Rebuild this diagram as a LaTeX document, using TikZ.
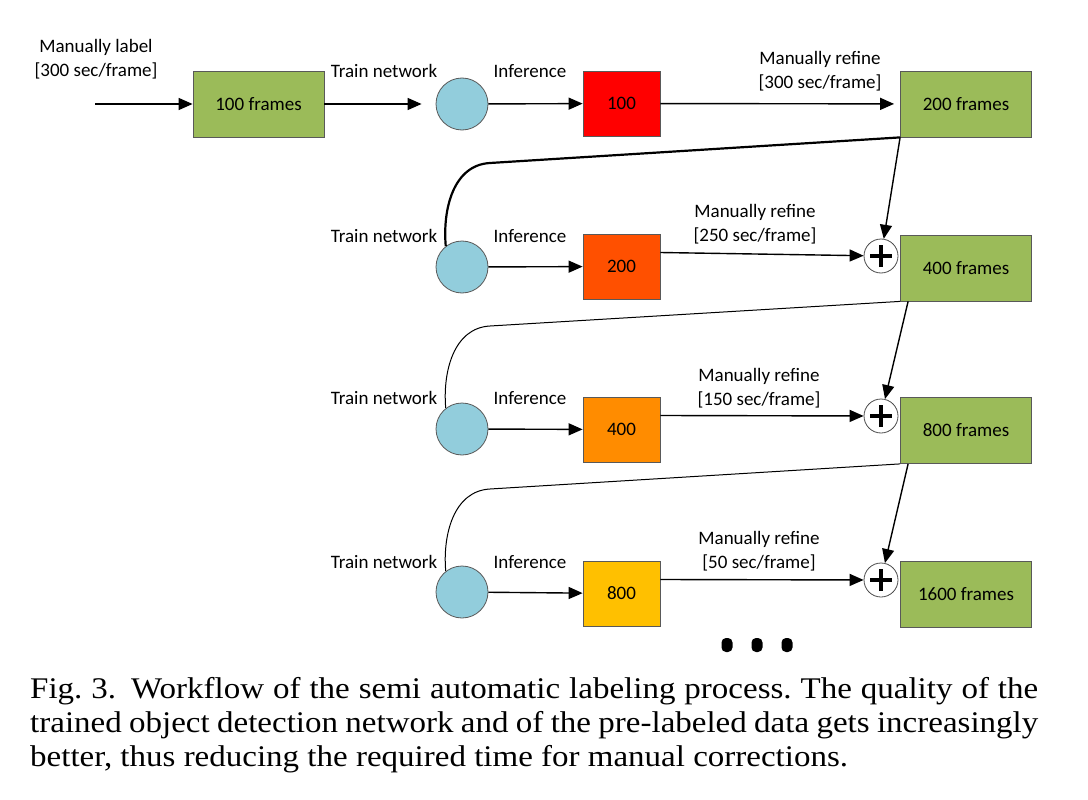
\documentclass[tikz,border=0pt]{standalone}
\usepackage{fontspec}
\setmainfont{Carlito}
\newfontfamily\capfont[FakeStretch=1.1]{Liberation Serif}
\usetikzlibrary{arrows.meta}

\definecolor{framegreen}{HTML}{9BBB59}
\definecolor{netblue}{HTML}{92CDDC}
\definecolor{infone}{HTML}{FF0000}
\definecolor{inftwo}{HTML}{FF5000}
\definecolor{infthree}{HTML}{FF8C00}
\definecolor{inffour}{HTML}{FFC000}

\tikzset{
  frames/.style={draw=black!65, fill=framegreen, line width=0.8pt, minimum width=131pt, minimum height=66pt, inner sep=0pt},
  prelabel/.style={draw=black!65, line width=0.8pt, minimum width=77pt, minimum height=65pt, inner sep=0pt},
  net/.style={circle, draw=black!65, fill=netblue, line width=0.8pt, minimum size=52pt, inner sep=0pt},
  merge/.style={circle, draw=black!70, fill=white, line width=0.8pt, minimum size=34pt, inner sep=0pt},
  plusmark/.style={line width=3.8pt},
  flow/.style={line width=1.4pt, -{Triangle[length=14pt,width=12pt]}},
  feedback/.style={line width=1pt},
  lbl/.style={align=center, inner sep=0pt},
  dot/.style={fill=black, rounded corners=4.5pt, minimum width=11pt, minimum height=14pt, inner sep=0pt},
}

\begin{document}
\begin{tikzpicture}[x=1pt, y=-1pt, font=\fontsize{19}{24}\selectfont]
    \useasboundingbox (0,0) rectangle (1088,800);

    % First round: manual labels
    \coordinate (start) at (95,104);
    \node[frames] (f100) at (258.5,104) {100 frames};
    \node[net] (net1) at (462,104) {};
    \node[prelabel, fill=infone] (pre100) at (621.5,103.5) {100};
    \node[frames] (f200) at (966,104) {200 frames};
    \draw[flow] (start) -- (f100);
    \draw[flow, shorten >=14pt] (f100) -- (net1);
    \draw[flow] (net1) -- (pre100);
    \draw[flow, shorten >=6pt] (pre100) -- (f200);
    \node[lbl] (label0) at (96,59) {Manually label\\{}[300 sec/frame]};
    \node[lbl] (train1) at (384,71) {Train network};
    \node[lbl] (inf1) at (530,71) {Inference};
    \node[lbl] (refine1) at (820,71) {Manually refine\\{}[300 sec/frame]};

    % Second round
    \node[net] (net2) at (462,267) {};
    \node[prelabel, fill=inftwo] (pre200) at (621.5,266.5) {200};
    \node[merge] (sum2) at (881,256) {};
    \draw[plusmark] ([xshift=-11pt]sum2.center) -- ([xshift=11pt]sum2.center)
                    ([yshift=-11pt]sum2.center) -- ([yshift=11pt]sum2.center);
    \node[frames] (f400) at (966,268) {400 frames};
    \coordinate (bend2) at (490,163);
    \draw[feedback, line width=2.2pt] (f200.south west) -- (bend2) to[out=183, in=95] (net2.128);
    \draw[flow] (net2) -- (pre200);
    \draw[flow] ([yshift=14pt]pre200.east) -- (sum2);
    \draw[flow] (f200.south west) -- (sum2);
    \node[lbl] (train2) at (384,236) {Train network};
    \node[lbl] (inf2) at (530,236) {Inference};
    \node[lbl] (refine2) at (755,224) {Manually refine\\{}[250 sec/frame]};

    % Third round
    \node[net] (net3) at (462,429) {};
    \node[prelabel, fill=infthree] (pre400) at (621.5,429.5) {400};
    \node[merge] (sum3) at (881,416) {};
    \draw[plusmark] ([xshift=-11pt]sum3.center) -- ([xshift=11pt]sum3.center)
                    ([yshift=-11pt]sum3.center) -- ([yshift=11pt]sum3.center);
    \node[frames] (f800) at (966,430.5) {800 frames};
    \coordinate (bend3) at (490,326);
    \draw[feedback] (f400.south west) -- (bend3) to[out=183, in=95] (net3.128);
    \draw[flow] (net3) -- (pre400);
    \draw[flow] ([yshift=14pt]pre400.east) -- (sum3);
    \draw[flow] ([xshift=8pt]f400.south west) -- (sum3);
    \node[lbl] (train3) at (384,398) {Train network};
    \node[lbl] (inf3) at (530,398) {Inference};
    \node[lbl] (refine3) at (759,388) {Manually refine\\{}[150 sec/frame]};

    % Fourth round
    \node[net] (net4) at (462,592) {};
    \node[prelabel, fill=inffour] (pre800) at (621.5,593.5) {800};
    \node[merge] (sum4) at (881,580) {};
    \draw[plusmark] ([xshift=-11pt]sum4.center) -- ([xshift=11pt]sum4.center)
                    ([yshift=-11pt]sum4.center) -- ([yshift=11pt]sum4.center);
    \node[frames] (f1600) at (966,594.5) {1600 frames};
    \coordinate (bend4) at (490,489);
    \draw[feedback] (f800.south west) -- (bend4) to[out=183, in=95] (net4.128);
    \draw[flow] (net4) -- (pre800);
    \draw[flow] ([yshift=14pt]pre800.east) -- (sum4);
    \draw[flow] ([xshift=8pt]f800.south west) -- (sum4);
    \node[lbl] (train4) at (384,562) {Train network};
    \node[lbl] (inf4) at (530,562) {Inference};
    \node[lbl] (refine4) at (759,551) {Manually refine\\{}[50 sec/frame]};

    % and so on
    \node[dot] (dot1) at (727,645) {};
    \node[dot] (dot2) at (757,645) {};
    \node[dot] (dot3) at (787,645) {};

    % Caption
    \node[anchor=north west, text width=1008pt, inner sep=0pt, align=justify,
      font=\capfont\fontsize{30}{34}\selectfont\frenchspacing] (caption) at (30,677)
      {Fig.~3.\hspace{0.5em}Workflow of the semi automatic labeling process. The quality of the\linebreak
       trained object detection network and of the pre-labeled data gets increasingly\linebreak
       better, thus reducing the required time for manual corrections.};
\end{tikzpicture}
\end{document}
